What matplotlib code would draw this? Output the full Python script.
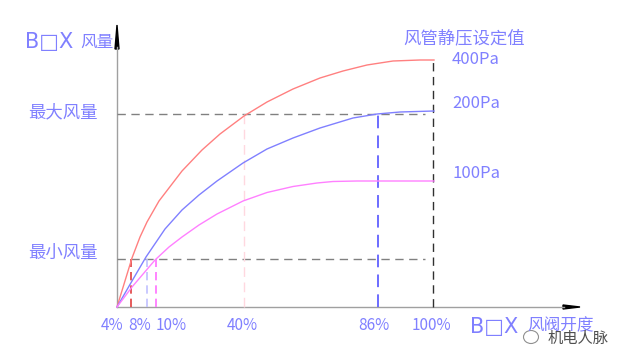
import matplotlib.pyplot as plt
from matplotlib.patches import Ellipse

plt.rcParams['font.family'] = ['Noto Sans CJK SC', 'DejaVu Sans']

# chart units: x = position along the opening axis, y = airflow (origin at 0, 0)
red_x = [0, 15, 23, 30, 42, 65, 85, 103, 127, 150, 176, 203, 226, 250, 276, 303, 317]
red_y = [0, 49, 70, 85, 106, 136, 157, 173, 191, 205, 218, 229, 236, 242, 246, 247, 247]
blue_x = [0, 15, 29, 48, 65, 82, 100, 126, 150, 176, 203, 236, 260, 283, 317]
blue_y = [0, 26, 50, 78, 97, 112, 126, 144, 158, 169, 179, 189, 193, 195, 196]
mag_x = [0, 15, 38, 52, 65, 82, 100, 126, 150, 176, 200, 216, 240, 317]
mag_y = [0, 20, 47, 60, 70, 82, 93, 106, 114.5, 120.5, 124, 125.5, 126, 126]

q_max, q_min = 193, 48
x_full = 316
min_marks = [14, 30, 39]
min_colors = ['#e04040', '#c0c0ff', '#ff70ff']

tick_pos = [-5, 23, 54, 125, 257, 314]
tick_labels = ['4%', '8%', '10%', '40%', '86%', '100%']

pa_labels = ['400Pa', '200Pa', '100Pa']
pa_y = [247, 203, 134]

txt_c = '#8080ff'
latin = ['DejaVu Sans', 'Noto Sans CJK SC']

fig = plt.figure(figsize=(6.25, 3.6), dpi=100)
ax = fig.add_axes([0, 0, 1, 1])
ax.set_xlim(-117, 508)
ax.set_ylim(-53, 307)
ax.axis('off')

# axes with arrows
ax.plot([0, 0], [0, 260], color='#a0a0a0', lw=1)
ax.plot([0, 447], [0, 0], color='#a0a0a0', lw=1)
ax.fill([-2, 2, 0], [258, 258, 282], color='k')
ax.fill([446, 446, 463], [-2, 2, 0], color='k')

# reference dashed lines
dash = dict(ls=(0, (6, 4)), lw=1)
ax.plot([0, 308], [q_max, q_max], color='#808080', **dash)
ax.plot([0, 308], [q_min, q_min], color='#808080', **dash)
ax.plot([x_full, x_full], [0, 247], color='#303030', **dash)
ax.plot([261, 261], [0, q_max], color='#6060ff', ls=(0, (7, 4)), lw=1.3)
ax.plot([127, 127], [0, q_max], color='#ffd8e0', ls=(0, (7, 4)), lw=1)
for xm, c in zip(min_marks, min_colors):
    ax.plot([xm, xm], [0, q_min], color=c, ls=(0, (5, 3)), lw=1.2)

# curves
ax.plot(red_x, red_y, color='#ff8080', lw=1)
ax.plot(blue_x, blue_y, color='#8080ff', lw=1)
ax.plot(mag_x, mag_y, color='#ff80ff', lw=1)

# texts
ax.text(-92, 265, 'B□X', color=txt_c, fontsize=15, va='center', ha='left',
        family=latin)
ax.text(-37, 265, '风量', color=txt_c, fontsize=12, va='center', ha='left')
ax.text(-54, q_max + 2, '最大风量', color=txt_c, fontsize=12.5, va='center', ha='center')
ax.text(-54, q_min + 6, '最小风量', color=txt_c, fontsize=12.5, va='center', ha='center')
ax.text(347, 269, '风管静压设定值', color=txt_c, fontsize=12.5, va='center', ha='center')
for lab, yy in zip(pa_labels, pa_y):
    ax.text(335, yy, lab, color=txt_c, fontsize=12, va='center', ha='left')
for xp, lab in zip(tick_pos, tick_labels):
    ax.text(xp, -18, lab, color=txt_c, fontsize=11, va='center', ha='center')
ax.text(353, -20, 'B□X', color=txt_c, fontsize=15, va='center', ha='left',
        family=latin)
ax.text(410, -19, '风阀开度', color=txt_c, fontsize=12, va='center', ha='left')

# watermark
ax.add_patch(Ellipse((414, -30), 15, 13, fill=False, ec='#909090', lw=0.8))
ax.text(431, -31, '机电人脉', color='#505050', fontsize=11, va='center', ha='left')

fig.savefig('out.png', dpi=100)
